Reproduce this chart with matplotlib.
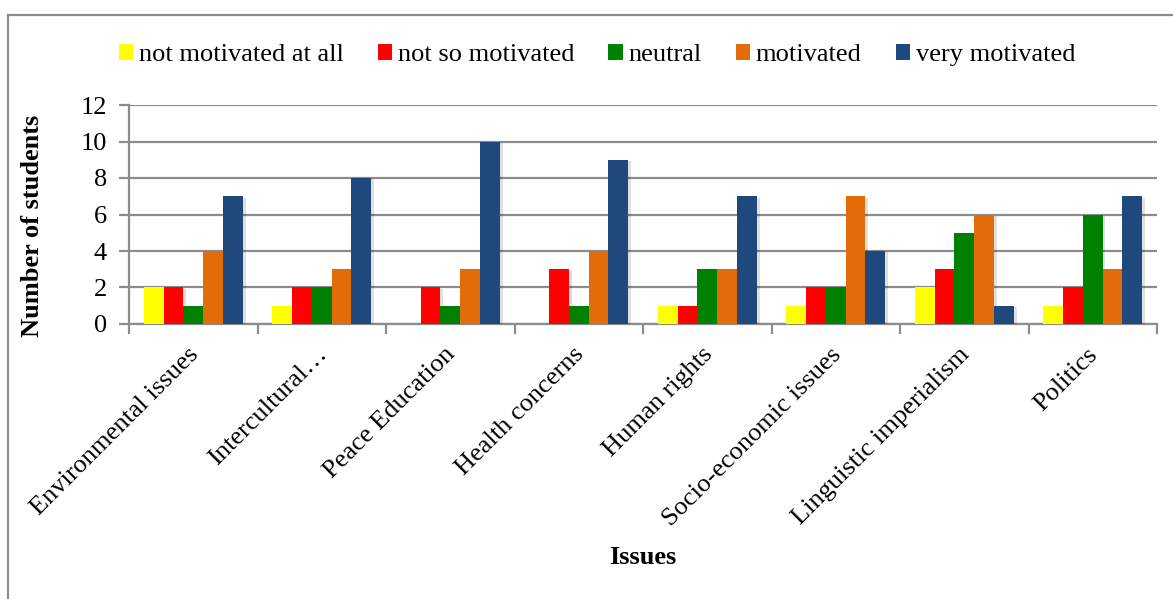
import numpy as np
import matplotlib
matplotlib.use("Agg")
from matplotlib import pyplot as plt
from matplotlib.lines import Line2D
from matplotlib.patches import Patch
from matplotlib.transforms import ScaledTranslation
import matplotlib.patheffects as pe

plt.rcParams['font.family'] = ['Liberation Serif', 'DejaVu Serif']

issues = ['Environmental issues', 'Intercultural…', 'Peace Education', 'Health concerns',
          'Human rights', 'Socio-economic issues', 'Linguistic imperialism', 'Politics']
levels = ['not motivated at all', 'not so motivated', 'neutral', 'motivated', 'very motivated']
not_at_all = [2, 1, 0, 0, 1, 1, 2, 1]
not_so = [2, 2, 2, 3, 1, 2, 3, 2]
neutral = [1, 2, 1, 1, 3, 2, 5, 6]
motivated = [4, 3, 3, 4, 3, 7, 6, 3]
very = [7, 8, 10, 9, 7, 4, 1, 7]
colours = ['#FFFF00', '#FF0000', '#008000', '#E36C0A', '#1F497D']

series = [not_at_all, not_so, neutral, motivated, very]

W, H = 1173, 599
fig = plt.figure(figsize=(W / 100, H / 100), dpi=100)
ax = fig.add_axes([129 / W, 1 - 324 / H, (1157 - 129) / W, (324 - 105) / H])

x = np.arange(len(issues))
bw = 0.154
shadow = [pe.SimplePatchShadow(offset=(2, -1), alpha=0.12, shadow_rgbFace='k'), pe.Normal()]
for k, (vals, col) in enumerate(zip(series, colours)):
    bars = ax.bar(x + (k - 2) * bw, vals, width=bw, color=col, zorder=3)
    for b in bars:
        b.set_path_effects(shadow)

grid_col = '#8C8C8C'
ax.set_xlim(-0.5, len(issues) - 0.5)
ax.set_ylim(0, 12)
ax.set_yticks(range(0, 13, 2))
ax.yaxis.grid(True, color=grid_col, linewidth=1.6, zorder=0)
ax.set_axisbelow(True)

for s in ['top', 'right']:
    ax.spines[s].set_visible(False)
ax.spines['left'].set_color(grid_col)
ax.spines['bottom'].set_color(grid_col)
ax.spines['left'].set_linewidth(1.6)
ax.spines['bottom'].set_linewidth(1.6)

# boundary ticks between categories, labels sit on the centres
ax.set_xticks(np.arange(-0.5, len(issues), 1.0))
ax.set_xticklabels([])
ax.set_xticks(x, minor=True)
ax.set_xticklabels(issues, minor=True, rotation=45, ha='right', va='top',
                   rotation_mode='anchor', fontsize=19)
ax.tick_params(axis='x', which='major', length=7, width=1.6, color=grid_col)
ax.tick_params(axis='x', which='minor', length=0, pad=14)
ax.tick_params(axis='y', length=7, width=1.6, color=grid_col, labelsize=19, pad=9)
shift = ScaledTranslation(-0.06, 0, fig.dpi_scale_trans)
for lbl in ax.get_xticklabels(minor=True):
    lbl.set_transform(lbl.get_transform() + shift)

ax.set_ylabel('Number of students', fontsize=19, fontweight='bold', va='center')
ax.yaxis.set_label_coords((33 - 129) / (1157 - 129), (324 - 226) / (324 - 105))
ax.set_xlabel('Issues', fontsize=19, fontweight='bold')
ax.xaxis.set_label_coords(0.5, (324 - 558) / (324 - 105))
ax.xaxis.label.set_va('center')

handles = [Patch(facecolor=c, edgecolor='none') for c in colours]
fig.legend(handles, levels, loc='center', bbox_to_anchor=(597 / W, 1 - 55 / H),
           ncol=5, frameon=False, fontsize=19, handlelength=0.55, handleheight=0.55,
           handletextpad=0.2, columnspacing=1.3)

# chart area border (left and top edges only)
fig.add_artist(Line2D([8 / W, 8 / W], [0, 1 - 15 / H], color='#8C8C8C', linewidth=1.6,
                      transform=fig.transFigure))
fig.add_artist(Line2D([8 / W, 1], [1 - 15 / H, 1 - 15 / H], color='#8C8C8C', linewidth=1.6,
                      transform=fig.transFigure))

fig.savefig('out.png', dpi=100)
